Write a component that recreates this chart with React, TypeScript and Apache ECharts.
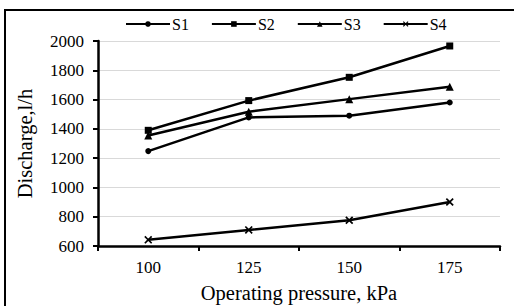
import React, { useEffect, useRef } from "react";
import * as echarts from "echarts";

const categories = ["100", "125", "150", "175"];
const s1 = [1248, 1478, 1490, 1580];
const s2 = [1390, 1593, 1752, 1966];
const s3 = [1355, 1517, 1603, 1688];
const s4 = [642, 710, 776, 900];
const seriesNames = ["S1", "S2", "S3", "S4"];

const crossPath =
  "path://M0,1.5L1.5,0L5,3.5L8.5,0L10,1.5L6.5,5L10,8.5L8.5,10L5,6.5L1.5,10L0,8.5L3.5,5Z";

const FONT = "'Liberation Serif', 'Times New Roman', serif";

export default function App() {
  const ref = useRef<HTMLDivElement>(null);
  useEffect(() => {
    document.body.style.margin = "0";
    const chart = echarts.init(ref.current!, null, { renderer: "svg" });
    const mk = (name: string, data: number[], symbol: string, size: number) => ({
      name,
      type: "line",
      data,
      symbol,
      symbolSize: size,
      lineStyle: { color: "#000", width: 2.5 },
      itemStyle: { color: "#000", borderWidth: 0 },
    });
    chart.setOption({
      animation: false,
      backgroundColor: "#fff",
      textStyle: { fontFamily: FONT },
      graphic: [
        {
          type: "rect",
          shape: { x: 5, y: 10, width: 600, height: 400 },
          style: { fill: "none", stroke: "#000", lineWidth: 2 },
          silent: true,
        },
      ],
      legend: {
        top: 11,
        left: 120,
        itemWidth: 44,
        itemHeight: 7,
        itemGap: 22,
        textStyle: { fontFamily: FONT, fontSize: 16, color: "#000", padding: [0, 0, 0, -3] },
        data: seriesNames,
      },
      grid: { left: 98, right: 14, top: 41, bottom: 60, outerBoundsMode: "none", containLabel: false },
      xAxis: {
        type: "category",
        data: categories,
        boundaryGap: true,
        name: "Operating pressure, kPa",
        nameLocation: "middle",
        nameGap: 36,
        nameTextStyle: { fontFamily: FONT, fontSize: 20.5, color: "#000" },
        axisLine: { lineStyle: { color: "#000", width: 2.5 } },
        axisTick: { show: true, length: 5, lineStyle: { color: "#000", width: 2 } },
        axisLabel: { fontFamily: FONT, fontSize: 17, color: "#000", margin: 13 },
        splitLine: { show: false },
      },
      yAxis: {
        type: "value",
        min: 600,
        max: 2000,
        interval: 200,
        name: "Discharge,l/h",
        nameLocation: "middle",
        nameGap: 63,
        nameTextStyle: { fontFamily: FONT, fontSize: 20.5, color: "#000" },
        axisLine: { show: true, lineStyle: { color: "#000", width: 2.5 } },
        axisTick: { show: true, length: 5, lineStyle: { color: "#000", width: 2 } },
        axisLabel: {
          fontFamily: FONT,
          fontSize: 17,
          color: "#000",
          margin: 14,
          formatter: (v: number) => String(v),
        },
        splitLine: { show: true, lineStyle: { color: "#d9d9d9", width: 1 } },
      },
      series: [
        mk("S1", s1, "circle", 6),
        mk("S2", s2, "rect", 7),
        mk("S3", s3, "triangle", 8),
        mk("S4", s4, crossPath, 8),
      ],
    });
    return () => chart.dispose();
  }, []);
  return <div ref={ref} style={{ width: 514, height: 306 }} />;
}
